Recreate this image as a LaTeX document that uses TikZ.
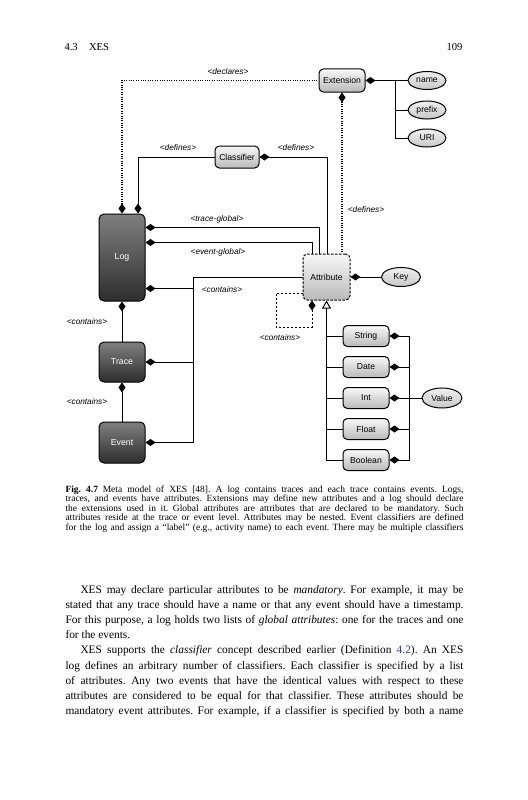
\documentclass[tikz,border=0pt]{standalone}
\usepackage{fontspec}
\setmainfont{Liberation Serif}
\newfontfamily\dsans{Liberation Sans}
\usetikzlibrary{arrows.meta,calc,shapes.geometric}
\definecolor{lt}{RGB}{248,248,248}
\definecolor{lb}{RGB}{185,185,185}
\definecolor{et}{RGB}{240,240,240}
\definecolor{eb}{RGB}{200,200,200}
\definecolor{dt}{RGB}{128,128,128}
\definecolor{db}{RGB}{45,45,45}
\definecolor{linkblue}{RGB}{30,60,230}
\frenchspacing
\begin{document}
\begin{tikzpicture}[x=0.8pt,y=-0.8pt,
  every path/.style={line width=0.8pt},
  lbox/.style={draw=black,line width=0.8pt,rounded corners=3.5pt,top color=lt,bottom color=lb,inner sep=0pt,font=\dsans\fontsize{6.9}{8}\selectfont},
  dbox/.style={draw=black,line width=0.8pt,rounded corners=4pt,top color=dt,bottom color=db,inner sep=0pt,text=white,font=\dsans\fontsize{7}{8}\selectfont},
  ebox/.style={ellipse,draw=black,line width=0.8pt,top color=et,bottom color=eb,inner sep=0pt,font=\dsans\fontsize{6.9}{8}\selectfont},
  lab/.style={inner sep=0pt,font=\dsans\itshape\fontsize{6.6}{7}\selectfont},
  dm/.style={arrows={Diamond[length=8pt,width=5.6pt]-}},
  tri/.style={arrows={Triangle[open,length=6.4pt,width=7.2pt]-}},
  dotl/.style={line width=0.9pt,dash pattern=on 0.8pt off 1.1pt},
  dashl/.style={dash pattern=on 2pt off 1.2pt}]
\fill[white] (0,0) rectangle (527,800);
\useasboundingbox (0,0) rectangle (527,800);

% running head
\node[anchor=base west,inner sep=0pt,font=\fontsize{8.5}{10}\selectfont] (hdr) at (64,51) {4.3\hspace{9pt}XES};
\node[anchor=base east,inner sep=0pt,font=\fontsize{8.5}{10}\selectfont] (pg) at (463,51) {109};

% nodes
\node[lbox,minimum width=36.8pt,minimum height=18.4pt] (ext) at (342,80.5) {Extension};
\node[lbox,minimum width=35.2pt,minimum height=17.6pt] (cls) at (237,157) {Classifier};
\node[dbox,minimum width=36.8pt,minimum height=69.6pt] (log) at (122,257.5) {Log};
\node[dbox,minimum width=36.8pt,minimum height=32pt] (trc) at (122,362) {Trace};
\node[dbox,minimum width=36.8pt,minimum height=32.8pt] (evt) at (122,442.5) {Event};
\node[lbox,dashl,minimum width=37.6pt,minimum height=36.8pt] (attr) at (326.5,277) {Attribute};
\node[ebox,minimum width=31.2pt,minimum height=15.2pt] (key) at (401,277) {Key};
\node[ebox,minimum width=30.4pt,minimum height=14.4pt] (name) at (427,80.5) {name};
\node[ebox,minimum width=30.4pt,minimum height=14.4pt] (prefix) at (427,110) {prefix};
\node[ebox,minimum width=30.4pt,minimum height=14.4pt] (uri) at (427,138) {URI};
\node[lbox,minimum width=36.8pt,minimum height=16.8pt] (str) at (366,336) {String};
\node[lbox,minimum width=36.8pt,minimum height=16.8pt] (date) at (366,367) {Date};
\node[lbox,minimum width=36.8pt,minimum height=16.8pt] (int) at (366,398) {Int};
\node[lbox,minimum width=36.8pt,minimum height=16.8pt] (flt) at (366,429) {Float};
\node[lbox,minimum width=36.8pt,minimum height=16.8pt] (bool) at (366,460) {Boolean};
\node[ebox,minimum width=32pt,minimum height=16pt] (val) at (442,398) {Value};

% labels
\node[lab] (ldecl) at (228,72) {<declares>};
\node[lab] (ldef1) at (178,148) {<defines>};
\node[lab] (ldef2) at (296,148) {<defines>};
\node[lab] (ldef3) at (366,210) {<defines>};
\node[lab] (ltg) at (217,219) {<trace-global>};
\node[lab] (leg) at (218,252) {<event-global>};
\node[lab] (lcon1) at (222,290) {<contains>};
\node[lab] (lcon2) at (87,322) {<contains>};
\node[lab] (lcon3) at (87,402) {<contains>};
\node[lab] (lcon4) at (280,338) {<contains>};

% coordinates
\coordinate (busB) at (193,442.5);
\coordinate (logc) at ($(log.south east)+(0,-13)$);
\coordinate (ebus) at (395,80.5);
\coordinate (vb) at (409,398);
\coordinate (lpc) at (276,327);

% connectors
\draw[dm,dotl] (log.north) |- (ext.west);
\draw[dm] ($(log.north)+(16,0)$) |- (cls.west);
\draw[dm] (cls.east) -| ($(attr.north)+(0.5,0)$);
\draw[dm] ($(log.north east)+(0,14)$) -| ($(attr.north)+(-7.5,0)$);
\draw[dm] ($(log.north east)+(0,29)$) -| ($(attr.north)+(-14.5,0)$);
\draw (attr.west) -| (busB);
\draw[dm] (logc) -- (logc -| busB);
\draw[dm] (trc.east) -- (trc.east -| busB);
\draw[dm] (evt.east) -- (busB);
\draw[dm] (log.south) -- (trc.north);
\draw[dm] (trc.south) -- (evt.north);
\draw[dm,dotl] (ext.south) -- (ext.south |- attr.north);
\draw[dm] (ext.east) -- (name.west);
\draw (ebus) |- (uri.west);
\draw (prefix.west) -- (prefix.west -| ebus);
\draw[dm] (attr.east) -- (key.west);
\draw[dm,dashl] ($(attr.south)+(-14.5,0)$) |- (lpc) |- ($(attr.west)+(0,16)$);
\draw[tri] (attr.south) |- (bool.west);
\draw (str.west) -- (str.west -| attr.south);
\draw (date.west) -- (date.west -| attr.south);
\draw (int.west) -- (int.west -| attr.south);
\draw (flt.west) -- (flt.west -| attr.south);
\draw[dm] (int.east) -- (val.west);
\draw[dm] (str.east) -| (vb);
\draw[dm] (bool.east) -| (vb);
\draw[dm] (date.east) -- (date.east -| vb);
\draw[dm] (flt.east) -- (flt.east -| vb);

% caption
\node[anchor=base west,text width=318.4pt,align=justify,inner sep=0pt,font=\fontsize{7.6}{7.6}\selectfont] (cap) at (65,492)
{\parfillskip=0pt \textbf{Fig.~4.7}\enspace Meta model of XES [48]. A log contains traces and each trace contains events. Logs,\linebreak
traces, and events have attributes. Extensions may define new attributes and a log should declare\linebreak
the extensions used in it. Global attributes are attributes that are declared to be mandatory. Such\linebreak
attributes reside at the trace or event level. Attributes may be nested. Event classifiers are defined\linebreak
for the log and assign a ``label'' (e.g., activity name) to each event. There may be multiple classifiers\par};

% body text
\node[anchor=base west,text width=318.4pt,align=justify,inner sep=0pt,font=\fontsize{9.1}{12.16}\selectfont] (body) at (65,593)
{\hspace*{12pt}XES may declare particular attributes to be \emph{mandatory}. For example, it may be\linebreak
stated that any trace should have a name or that any event should have a timestamp.\linebreak
For this purpose, a log holds two lists of \emph{global attributes}: one for the traces and one\linebreak
for the events.\par
\parfillskip=0pt
\hspace*{12pt}XES supports the \emph{classifier} concept described earlier (Definition \textcolor{linkblue}{4.2}). An XES\linebreak
log defines an arbitrary number of classifiers. Each classifier is specified by a list\linebreak
of attributes. Any two events that have the identical values with respect to these\linebreak
attributes are considered to be equal for that classifier. These attributes should be\linebreak
mandatory event attributes. For example, if a classifier is specified by both a name\par};
\end{tikzpicture}
\end{document}
